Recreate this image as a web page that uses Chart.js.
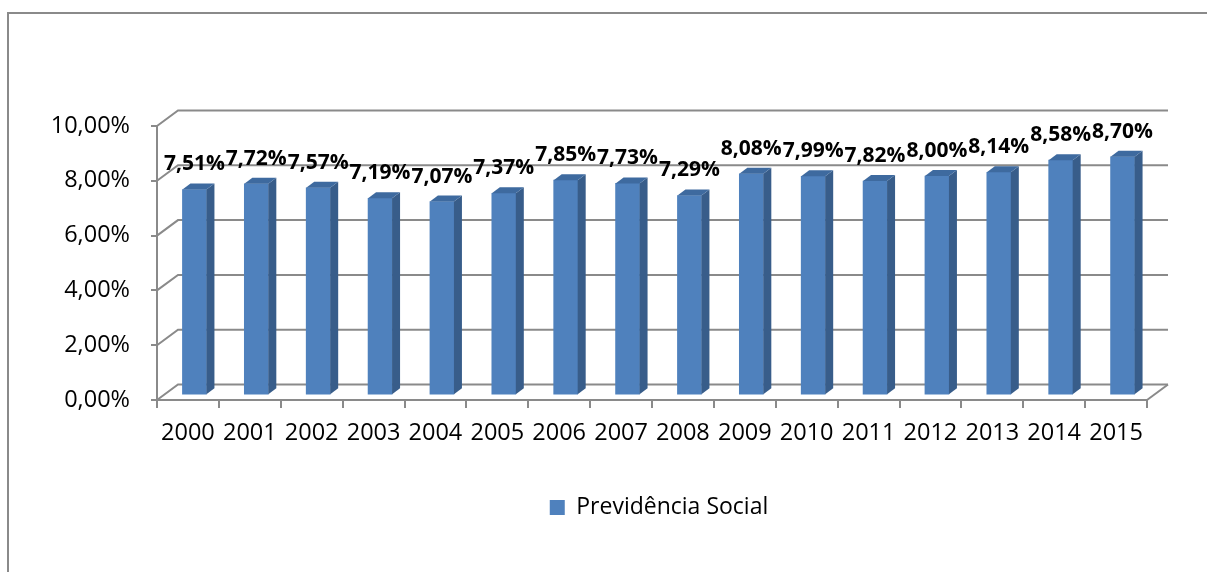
<!DOCTYPE html>
<html>
<head>
<meta charset="utf-8">
<script src="https://cdn.jsdelivr.net/npm/chart.js@4.4.1/dist/chart.umd.min.js"></script>
<style>
  html, body { margin: 0; padding: 0; background: #ffffff; overflow: hidden; width: 1207px; height: 572px; }
  #frame { position: absolute; left: 7px; top: 12px; width: 1400px; height: 700px;
           border-left: 2px solid #8a8a8a; border-top: 2px solid #8a8a8a; box-sizing: border-box; }
  #c { position: absolute; left: 0; top: 0; }
</style>
</head>
<body>
<div id="frame"></div>
<canvas id="c" width="1318" height="572"></canvas>
<script>
const categories = ['2000','2001','2002','2003','2004','2005','2006','2007','2008','2009','2010','2011','2012','2013','2014','2015'];
const seriesName = 'Previdência Social';
const values = [7.51, 7.72, 7.57, 7.19, 7.07, 7.37, 7.85, 7.73, 7.29, 8.08, 7.99, 7.82, 8.00, 8.14, 8.58, 8.70];
const yTicks = [0, 2, 4, 6, 8, 10];

const FONT = "'Open Sans', 'Noto Sans', sans-serif";
const GRID = '#8a8a8a';
const FRONT = '#4f81bd', SIDE = '#385d8a', TOP = '#3e6a9f';
const WALL_DX = 21, WALL_DY = -15.5;     // depth of the 3D floor / walls
const BAR_DX = 8, BAR_DY = -6;           // depth of each bar
const SHIFT_X = (WALL_DX - BAR_DX) / 2, SHIFT_Y = (WALL_DY - BAR_DY) / 2;

const fmt = v => v.toFixed(2).replace('.', ',') + '%';

const threeD = {
  id: 'threeD',
  beforeDatasetsDraw(chart) {
    const ctx = chart.ctx, y = chart.scales.y, a = chart.chartArea;
    ctx.save();
    ctx.strokeStyle = GRID; ctx.lineWidth = 2; ctx.lineJoin = 'miter';
    y.ticks.forEach(t => {
      const py = y.getPixelForValue(t.value);
      ctx.beginPath();
      ctx.moveTo(a.left, py);
      ctx.lineTo(a.left + WALL_DX, py + WALL_DY);
      ctx.lineTo(a.right + WALL_DX, py + WALL_DY);
      ctx.stroke();
    });
    const p0 = y.getPixelForValue(0);
    ctx.beginPath();
    ctx.moveTo(a.right, p0);
    ctx.lineTo(a.right + WALL_DX, p0 + WALL_DY);
    ctx.stroke();
    ctx.restore();
    ctx.save();
    ctx.translate(SHIFT_X, SHIFT_Y);
  },
  afterDatasetsDraw(chart) {
    const ctx = chart.ctx;
    ctx.restore();
    const meta = chart.getDatasetMeta(0);
    ctx.save();
    meta.data.forEach((bar, i) => {
      const p = bar.getProps(['x', 'y', 'base', 'width'], true);
      const l = p.x - p.width / 2 + SHIFT_X, r = p.x + p.width / 2 + SHIFT_X;
      const t = p.y + SHIFT_Y, b = p.base + SHIFT_Y;
      ctx.fillStyle = SIDE;
      ctx.beginPath();
      ctx.moveTo(r, t); ctx.lineTo(r + BAR_DX, t + BAR_DY);
      ctx.lineTo(r + BAR_DX, b + BAR_DY); ctx.lineTo(r, b); ctx.closePath(); ctx.fill();
      ctx.fillStyle = TOP;
      ctx.beginPath();
      ctx.moveTo(l, t); ctx.lineTo(l + BAR_DX, t + BAR_DY);
      ctx.lineTo(r + BAR_DX, t + BAR_DY); ctx.lineTo(r, t); ctx.closePath(); ctx.fill();
      ctx.fillStyle = '#000000';
      ctx.font = "bold 21px " + FONT;
      ctx.textAlign = 'center'; ctx.textBaseline = 'middle';
      ctx.fillText(fmt(chart.data.datasets[0].data[i]), p.x + SHIFT_X, t - 25);
    });
    ctx.restore();
  }
};

new Chart(document.getElementById('c'), {
  type: 'bar',
  data: {
    labels: categories,
    datasets: [{
      label: seriesName,
      data: values,
      backgroundColor: FRONT,
      borderWidth: 0,
      barThickness: 24,
      clip: false
    }]
  },
  options: {
    responsive: false,
    animation: false,
    devicePixelRatio: 1,
    layout: { padding: { top: 126, left: 0, right: 0, bottom: 43 } },
    plugins: {
      tooltip: { enabled: false },
      legend: {
        position: 'bottom',
        labels: { boxWidth: 15, boxHeight: 15, color: '#000000', font: { family: FONT, size: 23 } }
      }
    },
    scales: {
      x: {
        offset: true,
        grid: { offset: true, drawOnChartArea: false, drawTicks: true, tickLength: 8, color: GRID, lineWidth: 2 },
        border: { display: true, color: GRID, width: 2 },
        ticks: { color: '#000000', font: { family: FONT, size: 23.5 }, padding: 11, maxRotation: 0, autoSkip: false },
        afterFit: s => { s.height = 86; }
      },
      y: {
        min: 0, max: 10,
        afterBuildTicks: s => { s.ticks = yTicks.map(v => ({ value: v })); },
        grid: { drawOnChartArea: false, drawTicks: true, tickLength: 6, color: GRID, lineWidth: 2 },
        border: { display: true, color: GRID, width: 2 },
        ticks: { color: '#000000', font: { family: FONT, size: 23.5 }, padding: 21, callback: v => fmt(v) },
        afterFit: s => { s.width = 157; }
      },
      yR: {
        position: 'right', display: true,
        grid: { display: false }, border: { display: false }, ticks: { display: false },
        afterFit: s => { s.width = 171; }
      }
    }
  },
  plugins: [threeD]
});
</script>
</body>
</html>
